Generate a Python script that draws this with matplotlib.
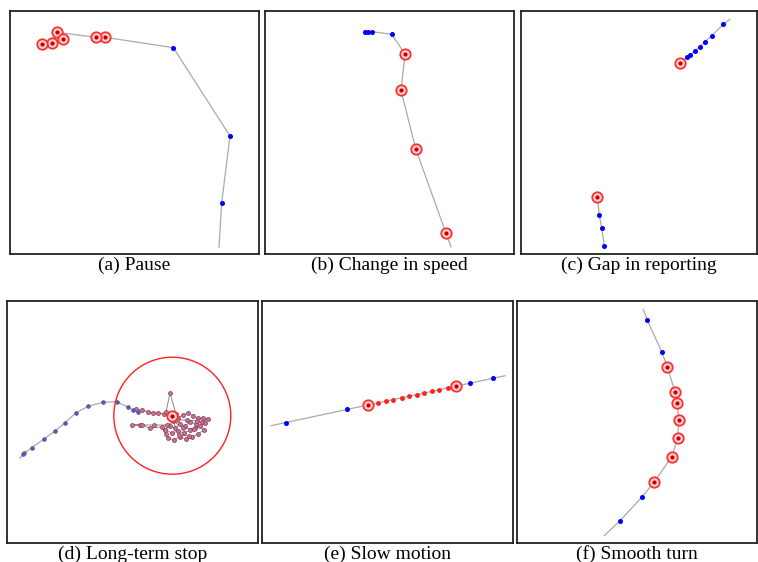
import matplotlib
matplotlib.use("Agg")
import matplotlib.pyplot as plt

# trajectory points per panel (local pixel-like units, y grows downwards)
# kind: n = plain track point, b = blue fix, R = flagged (red ring), r = small red dot

# (a) Pause
xa = [209, 211.7, 220, 163.3, 95.3, 85.7, 46.7, 53.3, 41.7, 31.7]
ya = [236, 191.7, 125, 36.7, 26.3, 26.3, 21.3, 28, 32.3, 33.3]
ka = "nbbbRRRRRR"

# (b) Change in speed
xb = [100, 103.3, 107.3, 126.7, 140, 136, 150.7, 181, 186]
yb = [21.3, 20.7, 20.7, 23.3, 43, 79.3, 137.7, 222.3, 235.7]
kb = "bbbbRRRRn"

# (c) Gap in reporting - two separate segments
xc1 = [209, 202.3, 190.7, 184, 179, 174, 169, 165.7, 159]
yc1 = [8.3, 13.3, 24.7, 30.7, 35.7, 39.7, 44, 46.3, 51.7]
kc1 = "nbbbbbbbR"
xc2 = [76.3, 78.3, 80.7, 83.3]
yc2 = [186.3, 204, 217, 234.7]
kc2 = "Rbbb"

# (d) Long-term stop
xd = [13, 16.3, 17, 24.7, 37, 48, 58, 69, 81.3, 95.7, 109.7, 121.3, 126, 131]
yd = [157.3, 153.3, 152.3, 146.7, 138, 130, 121.7, 111.7, 105.3, 101.3, 100.7, 106.3, 109, 110.7]
xd_stop = [129, 135, 141, 146, 151, 157, 159, 163, 169, 171, 176, 181, 186, 191, 196, 201, 195, 189,
           183, 178, 173, 168, 163, 158, 165, 171, 177, 183, 188, 193, 197, 191, 185, 179, 173, 167,
           161, 159, 155, 143, 133, 125, 135, 147, 160, 170, 180, 190, 198, 187, 176, 166, 172, 182]
yd_stop = [108, 109, 111, 112, 112, 113, 111, 92, 113, 117, 114, 112, 115, 117, 117, 118, 121, 123,
           121, 125, 123, 127, 125, 129, 132, 130, 132, 129, 127, 125, 129, 133, 136, 138, 136, 139,
           137, 133, 126, 127, 124, 124, 124, 124, 124, 119, 119, 120, 122, 128, 127, 120, 134, 135]
stop_center = (165.3, 114.7)
stop_radius = 58.5

# (e) Slow motion
xe = [9, 24, 85.3, 106.3, 115.7, 124, 131.3, 139.7, 147, 154.7, 162, 169.7, 177, 185.7, 194, 208, 231.3, 243]
ye = [124.7, 121.5, 108.4, 103.9, 101.9, 100.1, 98.6, 96.8, 95.2, 93.6, 92, 90.4, 88.8, 86.9, 85.2, 82.2, 77.2, 74.7]
ke = "nbbRrrrrrrrrrrRbbn"

# (f) Smooth turn
xf = [126.3, 130.3, 144.7, 150.3, 158, 160.3, 161.7, 160.7, 154.7, 137, 124.7, 103, 87.3]
yf = [8.3, 19.3, 50.7, 65.7, 91, 102.3, 119, 137.3, 155.7, 181.3, 196.3, 219.7, 234.7]
kf = "nbbRRRRRRRbbn"

captions = ["(a) Pause", "(b) Change in speed", "(c) Gap in reporting",
            "(d) Long-term stop", "(e) Slow motion", "(f) Smooth turn"]

W, H = 758, 562
boxes = [(10, 11, 249, 243), (265, 11, 249, 243), (521, 11, 236, 243),
         (7, 301, 251, 242), (262, 301, 251, 242), (517, 301, 240, 242)]

fig = plt.figure(figsize=(W / 100, H / 100), dpi=100)
axes = []
for (l, t, w, h) in boxes:
    ax = fig.add_axes([l / W, 1 - (t + h) / H, w / W, h / H])
    ax.set_xlim(0, w)
    ax.set_ylim(h, 0)
    ax.set_xticks([])
    ax.set_yticks([])
    for s in ax.spines.values():
        s.set_linewidth(1.3)
        s.set_color("#222222")
    axes.append(ax)


def draw_track(ax, xs, ys, kinds, blue="#0000ff", bsize=2.6):
    ax.plot(xs, ys, color="#aaaaaa", lw=0.9, zorder=1)
    for x, y, k in zip(xs, ys, kinds):
        if k == "b":
            ax.plot(x, y, "o", ms=bsize, color=blue, mec=blue, zorder=3)
        elif k == "r":
            ax.plot(x, y, "o", ms=2.5, color="#ff2020", mec="#ff2020", zorder=3)
        elif k == "R":
            ax.plot(x, y, "o", ms=7.5, mfc="#ffd0d0", mec="#ff3030", mew=1.3, zorder=4)
            ax.plot(x, y, "o", ms=2.0, color="#c00000", zorder=5)


draw_track(axes[0], xa, ya, ka)
draw_track(axes[1], xb, yb, kb)
draw_track(axes[2], xc1, yc1, kc1)
draw_track(axes[2], xc2, yc2, kc2)
draw_track(axes[4], xe, ye, ke)
draw_track(axes[5], xf, yf, kf)

# (d): approach track, stop cluster, stop circle
axd = axes[3]
draw_track(axd, xd, yd, "n" + "b" * (len(xd) - 1), blue="#5a5aa8", bsize=2.3)
axd.plot([xd[-1]] + xd_stop, [yd[-1]] + yd_stop, color="#888888", lw=0.7, zorder=1)
axd.plot(xd_stop, yd_stop, "o", ms=2.8, mfc="#c87890", mec="#904060", mew=0.6, zorder=2)
axd.plot(*stop_center, "o", ms=7.5, mfc="#ffd0d0", mec="#ff3030", mew=1.3, zorder=4)
axd.plot(*stop_center, "o", ms=2.0, color="#c00000", zorder=5)
axd.add_patch(plt.Circle(stop_center, stop_radius, fill=False, ec="#ff2020", lw=1.0, zorder=3))

for (l, t, w, h), cap in zip(boxes, captions):
    fig.text((l + w / 2) / W, 1 - (t + h + 11) / H, cap, ha="center", va="center",
             fontsize=14, family="Liberation Serif")

fig.savefig("out.png", dpi=100)
